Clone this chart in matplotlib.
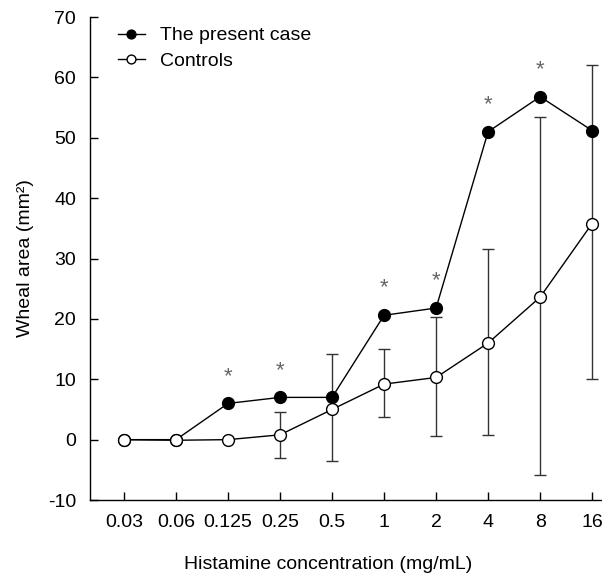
import matplotlib.pyplot as plt
import numpy as np

plt.rcParams['font.family'] = ['Liberation Sans', 'DejaVu Sans']
plt.rcParams['axes.unicode_minus'] = False

# Data
conc_labels = ["0.03", "0.06", "0.125", "0.25", "0.5", "1", "2", "4", "8", "16"]
present_case = [0, 0, 6.0, 7.0, 7.0, 20.6, 21.8, 51.0, 56.8, 51.2]
controls = [0, -0.1, 0, 0.8, 5.0, 9.2, 10.3, 16.0, 23.6, 35.8]
ctrl_err_low = [0, 0, 0, 3.9, 8.5, 5.4, 9.7, 15.2, 29.5, 25.7]
ctrl_err_high = [0, 0, 0, 3.8, 9.2, 5.8, 10.0, 15.5, 29.9, 26.3]
significant = [False, False, True, True, False, True, True, True, True, False]

x = np.arange(len(conc_labels))

fig = plt.figure(figsize=(6.02, 5.77), dpi=100)
ax = fig.add_axes([0.1495, 0.1334, 0.8505, 0.8371])

# error bars for controls (only where there is spread)
has_err = np.array(ctrl_err_high) > 0
ax.errorbar(x[has_err], np.array(controls)[has_err],
            yerr=[np.array(ctrl_err_low)[has_err], np.array(ctrl_err_high)[has_err]],
            fmt="none", ecolor="#333333", elinewidth=1.0, capsize=4.5, capthick=1.0, zorder=1)

ax.plot(x, present_case, color="black", lw=1.0, marker="o", ms=8.5,
        mfc="black", mec="black", label="The present case", zorder=3)
ax.plot(x, controls, color="black", lw=1.0, marker="o", ms=8.5,
        mfc="white", mec="black", mew=1.0, label="Controls", zorder=4)

for xi, yi, s in zip(x, present_case, significant):
    if s:
        ax.annotate("*", (xi, yi), xytext=(0, 12), textcoords="offset points",
                    ha="center", va="bottom", fontsize=16, color="#666666")

ax.set_xlim(-0.654, 9.19)
ax.set_ylim(-10, 70)
ax.set_yticks(range(-10, 71, 10))
ax.set_xticks(x)
ax.set_xticklabels(conc_labels)
ax.tick_params(direction="in", length=6, width=1.0, labelsize=14, pad=10)
ax.spines["top"].set_visible(False)
ax.spines["right"].set_visible(False)
for sp in ("left", "bottom"):
    ax.spines[sp].set_linewidth(1.0)

ax.set_xlabel("Histamine concentration (mg/mL)", fontsize=14, labelpad=20)
ax.xaxis.set_label_coords(0.465, -0.115)
ax.set_ylabel("Wheal area (mm²)", fontsize=14, labelpad=10)

ax.legend(loc="upper left", frameon=False, fontsize=14, handlelength=1.4,
          handletextpad=0.8, labelspacing=0.42, borderaxespad=0.1,
          markerscale=0.75, bbox_to_anchor=(0.035, 1.0))

fig.savefig("out.png", dpi=100)
